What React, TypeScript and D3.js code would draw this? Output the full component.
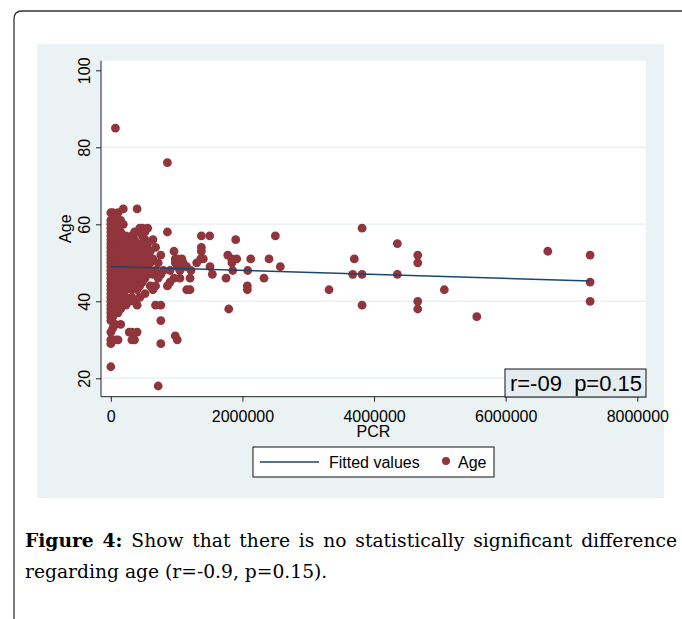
import * as d3 from 'd3';
import { useEffect, useRef } from 'react';

// axis ticks
const yTicks = [20, 40, 60, 80, 100];
const xTicks = [0, 2000000, 4000000, 6000000, 8000000];

// dense part of the scatter, read column by column (PCR value -> ages)
const columnPcr = [
  0, 30000, 70000, 110000, 150000, 190000, 230000, 280000, 320000, 360000,
  400000, 440000, 480000, 520000, 560000, 600000, 640000, 680000, 720000, 760000,
  800000, 860000, 900000, 960000, 980000, 1010000, 1050000, 1080000, 1100000,
];
const columnAges = [
  [23, 29, 30, 32, 35, 36, 37, 38, 39, 40, 41, 42, 43, 44, 45, 46, 47, 48, 49, 50, 51, 52, 53, 54, 55, 56, 57, 58, 59, 60, 61, 63],
  [33, 36, 40, 42, 44, 45, 46, 47, 48, 49, 50, 51, 52, 53, 54, 55, 56, 57, 58, 60, 62, 63],
  [30, 34, 38, 41, 43, 45, 47, 48, 49, 50, 51, 52, 53, 54, 55, 56, 58, 59, 61, 62, 85],
  [30, 37, 39, 40, 42, 44, 46, 47, 48, 50, 51, 52, 53, 55, 56, 57, 60, 63],
  [34, 38, 40, 41, 43, 45, 47, 49, 50, 52, 54, 55, 57, 58, 61],
  [40, 42, 44, 46, 48, 50, 51, 53, 54, 56, 60, 64],
  [39, 41, 43, 45, 47, 49, 52, 55, 57],
  [32, 40, 44, 46, 48, 50, 51, 53, 54, 56],
  [30, 32, 41, 43, 45, 47, 49, 52, 55, 57],
  [30, 40, 44, 46, 48, 50, 53, 56, 58],
  [32, 39, 43, 45, 47, 49, 51, 54, 58, 64],
  [41, 44, 46, 48, 52, 55, 59],
  [45, 47, 50, 53, 57, 59],
  [42, 46, 48, 51, 54, 56, 58],
  [47, 49, 52, 55, 59],
  [44, 48, 50, 53],
  [43, 47, 51, 56],
  [39, 44, 48, 54],
  [18, 46, 50],
  [29, 35, 39, 47, 52],
  [48],
  [44, 58, 76],
  [45, 48],
  [46, 53],
  [31, 50, 51],
  [30, 49, 51],
  [46, 48],
  [51],
  [49, 50],
];

// sparse points further right
const sparsePcr = [
  1153000, 1204000, 1204000, 1153000, 1219000, 1305000, 1366000, 1376000, 1376000, 1376000,
  1406000, 1503000, 1508000, 1543000, 1751000, 1777000, 1792000, 1837000, 1840000, 1853000,
  1898000, 1913000, 2075000, 2075000, 2080000, 2126000, 2328000, 2404000, 2500000, 2576000,
  3316000, 3676000, 3700000, 3818000, 3818000, 3818000, 4354000, 4354000, 4664000, 4664000,
  4664000, 4664000, 5068000, 5561000, 6640000, 7283000, 7283000, 7283000,
];
const sparseAge = [
  43, 43, 46, 49, 48, 50, 51, 53, 54, 57,
  51, 57, 49, 47, 46, 52, 38, 51, 50, 48,
  56, 51, 44, 43, 48, 51, 46, 51, 57, 49,
  43, 47, 51, 59, 47, 39, 55, 47, 52, 50,
  40, 38, 43, 36, 53, 52, 45, 40,
];

// fitted regression line end points
const fittedPcr = [0, 7283000];
const fittedAge = [49.05, 45.27];

const legendLabels = ['Fitted values', 'Age'];
const statLabel = 'r=-09  p=0.15';
const captionWords = [
  { t: 'Figure', b: true }, { t: '4:', b: true }, { t: 'Show' }, { t: 'that' }, { t: 'there' },
  { t: 'is' }, { t: 'no' }, { t: 'statistically' }, { t: 'significant' }, { t: 'difference' },
];
const captionLine2 = 'regarding age (r=-0.9, p=0.15).';

const DOT = '#8f353b';
const LINE = '#1a476f';
const PANEL = '#eaf2f3';
const SANS = '"Liberation Sans", Arial, sans-serif';
const SERIF = '"DejaVu Serif", "Liberation Serif", serif';
const FS = '16px';
const CAP_FS = '18.7px';

export default function App() {
  const ref = useRef<SVGSVGElement>(null);

  useEffect(() => {
    const svg = d3.select(ref.current);
    svg.selectAll('*').remove();

    const plot = { left: 101, top: 60.7, right: 646, bottom: 396.7 };

    const x = d3.scaleLinear().domain([0, 8000000]).range([110.8, 637.3]);
    const y = d3.scaleLinear().domain([20, 100]).range([378.3, 70.3]);

    // outer frame of the figure
    svg.append('path')
      .attr('d', 'M14,619 L14,19 Q14,11 22,11 L690,11')
      .attr('fill', 'none')
      .attr('stroke', '#333')
      .attr('stroke-width', 1.3);

    // graph region + plot region
    svg.append('rect')
      .attr('x', 37).attr('y', 44).attr('width', 627).attr('height', 454)
      .attr('fill', PANEL);
    svg.append('rect')
      .attr('x', plot.left).attr('y', plot.top)
      .attr('width', plot.right - plot.left).attr('height', plot.bottom - plot.top)
      .attr('fill', '#fff');

    // gridlines
    svg.append('g').selectAll('line')
      .data(yTicks.filter(d => d < 100))
      .enter().append('line')
      .attr('x1', plot.left).attr('x2', plot.right)
      .attr('y1', d => y(d)).attr('y2', d => y(d))
      .attr('stroke', PANEL).attr('stroke-width', 1.5);

    // points
    const points: [number, number][] = [];
    columnPcr.forEach((p, i) => columnAges[i].forEach(a => points.push([p, a])));
    sparsePcr.forEach((p, i) => points.push([p, sparseAge[i]]));

    svg.append('g').selectAll('circle')
      .data(points)
      .enter().append('circle')
      .attr('cx', d => x(d[0]))
      .attr('cy', d => y(d[1]))
      .attr('r', 4.4)
      .attr('fill', DOT);

    // fitted line
    svg.append('path')
      .datum(fittedPcr.map((p, i) => [p, fittedAge[i]] as [number, number]))
      .attr('d', d3.line<[number, number]>().x(d => x(d[0])).y(d => y(d[1])))
      .attr('fill', 'none')
      .attr('stroke', LINE)
      .attr('stroke-width', 1.5);

    // y axis
    const gy = svg.append('g').attr('transform', `translate(${plot.left},0)`);
    gy.call(d3.axisLeft(y).tickValues(yTicks).tickSize(5).tickSizeOuter(0));
    gy.select('.domain').remove();
    gy.selectAll('line').attr('stroke', '#222');
    gy.selectAll('text')
      .attr('transform', 'rotate(-90)')
      .attr('x', 0).attr('y', -11).attr('dy', 0)
      .attr('text-anchor', 'middle')
      .style('font-family', SANS).style('font-size', FS).attr('fill', '#000');
    svg.append('line')
      .attr('x1', plot.left).attr('x2', plot.left)
      .attr('y1', plot.top).attr('y2', plot.bottom)
      .attr('stroke', '#222');

    // x axis
    const gx = svg.append('g').attr('transform', `translate(0,${plot.bottom})`);
    gx.call(d3.axisBottom(x).tickValues(xTicks).tickSize(5).tickSizeOuter(0).tickFormat(d3.format('d')));
    gx.select('.domain').remove();
    gx.selectAll('line').attr('stroke', '#222');
    gx.selectAll('text')
      .attr('y', 25).attr('dy', 0)
      .style('font-family', SANS).style('font-size', FS).attr('fill', '#000');
    svg.append('line')
      .attr('x1', plot.left).attr('x2', plot.right)
      .attr('y1', plot.bottom).attr('y2', plot.bottom)
      .attr('stroke', '#222');

    // axis titles
    svg.append('text')
      .attr('x', (plot.left + plot.right) / 2).attr('y', 437)
      .attr('text-anchor', 'middle')
      .style('font-family', SANS).style('font-size', FS)
      .text('PCR');
    svg.append('text')
      .attr('transform', `translate(71,${(plot.top + plot.bottom) / 2}) rotate(-90)`)
      .attr('text-anchor', 'middle')
      .style('font-family', SANS).style('font-size', FS)
      .text('Age');

    // r / p box
    svg.append('rect')
      .attr('x', 505).attr('y', 369).attr('width', 141).attr('height', 28)
      .attr('fill', '#e4ecef').attr('stroke', '#111');
    svg.append('text')
      .attr('x', 576).attr('y', 391)
      .attr('text-anchor', 'middle')
      .style('font-family', SANS).style('font-size', '22px')
      .style('white-space', 'pre')
      .text(statLabel);

    // legend
    const lg = svg.append('g');
    lg.append('rect')
      .attr('x', 253).attr('y', 447).attr('width', 241).attr('height', 30)
      .attr('fill', '#fff').attr('stroke', '#111');
    lg.append('line')
      .attr('x1', 260).attr('x2', 319).attr('y1', 462).attr('y2', 462)
      .attr('stroke', LINE).attr('stroke-width', 1.5);
    lg.append('text')
      .attr('x', 329).attr('y', 468)
      .style('font-family', SANS).style('font-size', FS)
      .text(legendLabels[0]);
    lg.append('circle')
      .attr('cx', 446).attr('cy', 461).attr('r', 4).attr('fill', DOT);
    lg.append('text')
      .attr('x', 458).attr('y', 468)
      .style('font-family', SANS).style('font-size', FS)
      .text(legendLabels[1]);

    // caption, first line justified
    const capLeft = 25;
    const capRight = 677;
    const words = svg.append('g').selectAll('text')
      .data(captionWords)
      .enter().append('text')
      .attr('y', 547)
      .style('font-family', SERIF).style('font-size', CAP_FS)
      .style('font-weight', d => (d.b ? 'bold' : 'normal'))
      .text(d => d.t);
    const widths = words.nodes().map(n => (n as SVGTextElement).getComputedTextLength());
    const gap = (capRight - capLeft - d3.sum(widths)) / (widths.length - 1);
    let cx = capLeft;
    words.each(function (_, i) {
      d3.select(this).attr('x', cx);
      cx += widths[i] + gap;
    });
    svg.append('text')
      .attr('x', capLeft).attr('y', 578)
      .style('font-family', SERIF).style('font-size', CAP_FS)
      .text(captionLine2);

    return () => {
      svg.selectAll('*').remove();
    };
  }, []);

  return (
    <svg
      ref={ref}
      width={682}
      height={619}
      style={{ position: 'absolute', left: 0, top: 0, display: 'block' }}
    />
  );
}
